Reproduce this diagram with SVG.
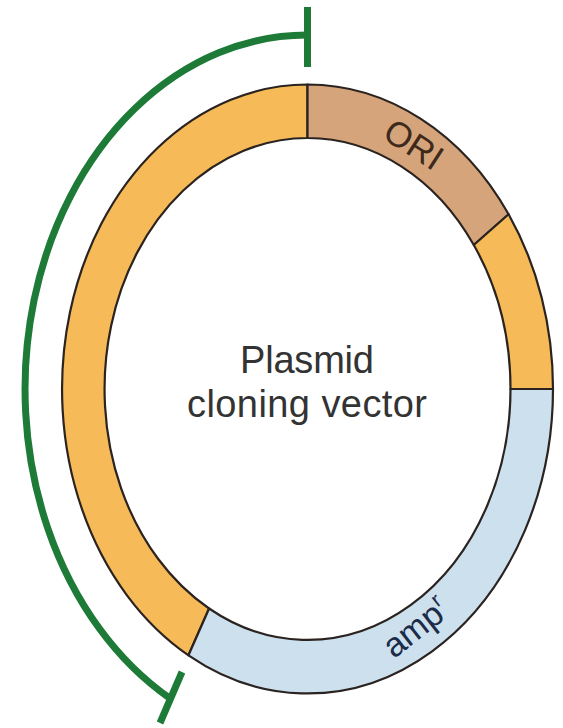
<svg xmlns="http://www.w3.org/2000/svg" width="563" height="728" viewBox="0 0 563 728">
<style>
.seg{stroke:#2a2320;stroke-width:2.2;stroke-linejoin:round}
.orange{fill:#F6BB58}
.ori{fill:#D5A47A}
.blue{fill:#CDE0EE}
.green{fill:none;stroke:#1E7B37;stroke-width:7}
.label{font-family:"Liberation Sans",Arial,sans-serif;text-anchor:middle}
</style>
<rect width="563" height="728" fill="#ffffff"/>
<g id="plasmid">
<path id="seg-orange-large" class="seg orange" d="M 188.5 655.3 A 245.5 304.5 0 0 1 307.5 84.5 L 307.5 138 A 203 251 0 0 0 209.1 608.5 Z"/>
<path id="seg-ori" class="seg ori" d="M 307.5 84.5 A 245.5 304.5 0 0 1 508.6 214.3 L 473.8 245 A 203 251 0 0 0 307.5 138 Z"/>
<path id="seg-orange-small" class="seg orange" d="M 508.6 214.3 A 245.5 304.5 0 0 1 553 389 L 510.5 389 A 203 251 0 0 0 473.8 245 Z"/>
<path id="seg-amp" class="seg blue" d="M 553 389 A 245.5 304.5 0 0 1 188.5 655.3 L 209.1 608.5 A 203 251 0 0 0 510.5 389 Z"/>
</g>
<g id="label-center">
<text class="label" x="307" y="373" font-size="38" fill="#333333" textLength="134">Plasmid</text>
<text class="label" x="307" y="417" font-size="38" fill="#333333" textLength="240">cloning vector</text>
</g>
<g id="label-ori">
<text class="label" transform="translate(414,144) rotate(33)" x="0" y="12.5" font-size="35" fill="#3d2a1c">ORI</text>
</g>
<g id="label-amp">
<text class="label" transform="translate(416,628) rotate(-38)" x="0" y="11" font-size="34" fill="#1c2b48">amp<tspan dy="-14" font-size="21">r</tspan></text>
</g>
<g id="connectors">
<path class="green" d="M 307.5 35 A 282 354 0 0 0 170.3 698.6"/>
<line class="green" x1="307.5" y1="7" x2="307.5" y2="67"/>
<line class="green" x1="182" y1="672" x2="160" y2="723"/>
</g>
</svg>
